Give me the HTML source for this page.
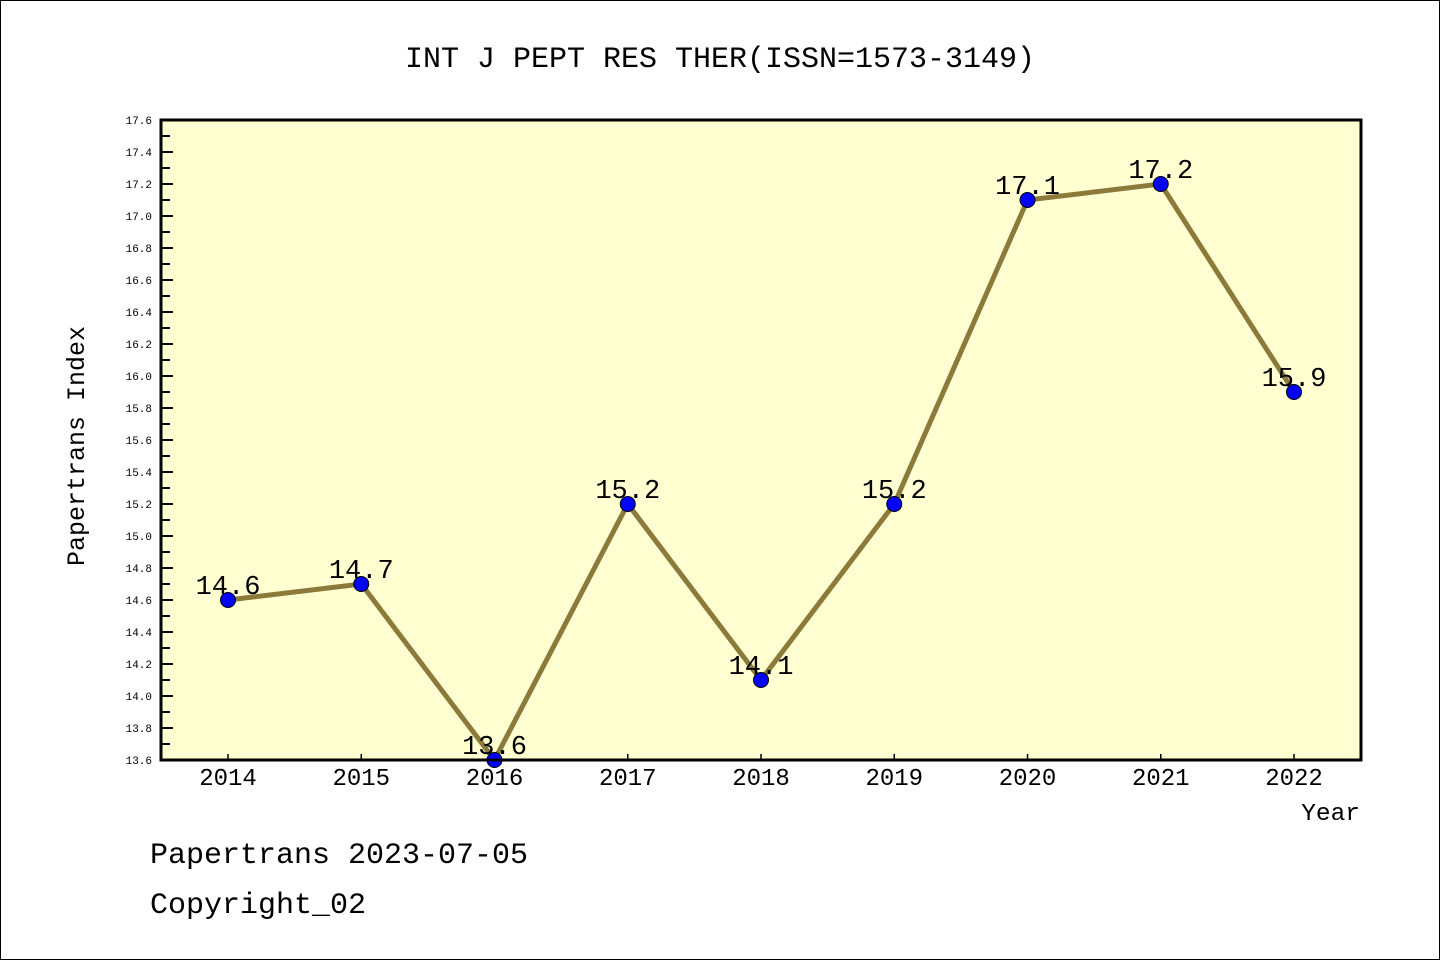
<!DOCTYPE html>
<html><head><meta charset="utf-8"><style>
html,body{margin:0;padding:0;background:#fff}
svg{display:block}
text{font-family:"Liberation Mono","WenQuanYi Zen Hei",monospace}
</style></head><body>
<svg id="chart" width="1440" height="960" viewBox="0 0 1440 960">
<rect x="0.5" y="0.5" width="1439" height="959" fill="#fff" stroke="#000"/>
<text x="720" y="67" text-anchor="middle" font-size="30">INT J PEPT RES THER(ISSN=1573-3149)</text>
<rect x="161" y="120" width="1200" height="640" fill="#ffffd2"/>
<g id="yaxis"></g>
<g id="xaxis"></g>
<g id="series"></g>
<rect x="161" y="120" width="1200" height="640" fill="none" stroke="#000" stroke-width="3"/>
<text transform="translate(84,446) rotate(-90)" text-anchor="middle" font-size="25">Papertrans Index</text>
<text x="1360" y="820" text-anchor="end" font-size="24.5">Year</text>
<text x="150" y="863" font-size="30">Papertrans 2023-07-05</text>
<text x="150" y="913" font-size="30">Copyright_02</text>
</svg>
<script>
const years = [2014,2015,2016,2017,2018,2019,2020,2021,2022];
const values = [14.6,14.7,13.6,15.2,14.1,15.2,17.1,17.2,15.9];
const valueLabels = ["14.6","14.7","13.6","15.2","14.1","15.2","17.1","17.2","15.9"];
const yTicks = [13.6,13.8,14.0,14.2,14.4,14.6,14.8,15.0,15.2,15.4,15.6,15.8,16.0,16.2,16.4,16.6,16.8,17.0,17.2,17.4,17.6];
const yMin = 13.6, yMax = 17.6;
const NS = "http://www.w3.org/2000/svg";
const L=161,R=1361,T=120,B=760;
function y(v){return B-(v-yMin)/(yMax-yMin)*(B-T);}
function x(yr){return 228+(yr-years[0])*(1294-228)/(years[years.length-1]-years[0]);}
function mk(tag,attrs,parent){const e=document.createElementNS(NS,tag);for(const k in attrs)e.setAttribute(k,attrs[k]);parent.appendChild(e);return e;}
const ya=document.getElementById('yaxis'),xa=document.getElementById('xaxis'),se=document.getElementById('series');
yTicks.forEach((t,i)=>{
  const ln=mk('line',{x1:L,x2:L+12,y1:y(t),y2:y(t),stroke:'#000','stroke-width':2},ya);
  
  
  const tx=mk('text',{x:152,y:y(t)+4,'text-anchor':'end','font-size':11},ya);
  tx.textContent=t.toFixed(1);
  
  
  if(i<yTicks.length-1){
    const m=(t+yTicks[i+1])/2;
    const mn=mk('line',{x1:L,x2:L+9,y1:y(m),y2:y(m),stroke:'#000','stroke-width':2},ya);
    
    
  }
});
years.forEach(yr=>{
  const ln=mk('line',{x1:x(yr),x2:x(yr),y1:B,y2:B-6,stroke:'#000','stroke-width':1.5},xa);
  
  
  const tx=mk('text',{x:x(yr),y:785,'text-anchor':'middle','font-size':24},xa);
  tx.textContent=yr;
  
  
});
const pl=mk('polyline',{points:years.map((yr,i)=>x(yr)+','+y(values[i])).join(' '),fill:'none',stroke:'#8b7a3a','stroke-width':5},se);


years.forEach((yr,i)=>{
  const c=mk('circle',{cx:x(yr),cy:y(values[i]),r:7.5,fill:'#0000ff',stroke:'#000','stroke-width':1},se);
  
  
  const tx=mk('text',{x:x(yr),y:y(values[i])-6,'text-anchor':'middle','font-size':27},se);
  tx.textContent=valueLabels[i];
  
  
});
</script>
</body></html>
